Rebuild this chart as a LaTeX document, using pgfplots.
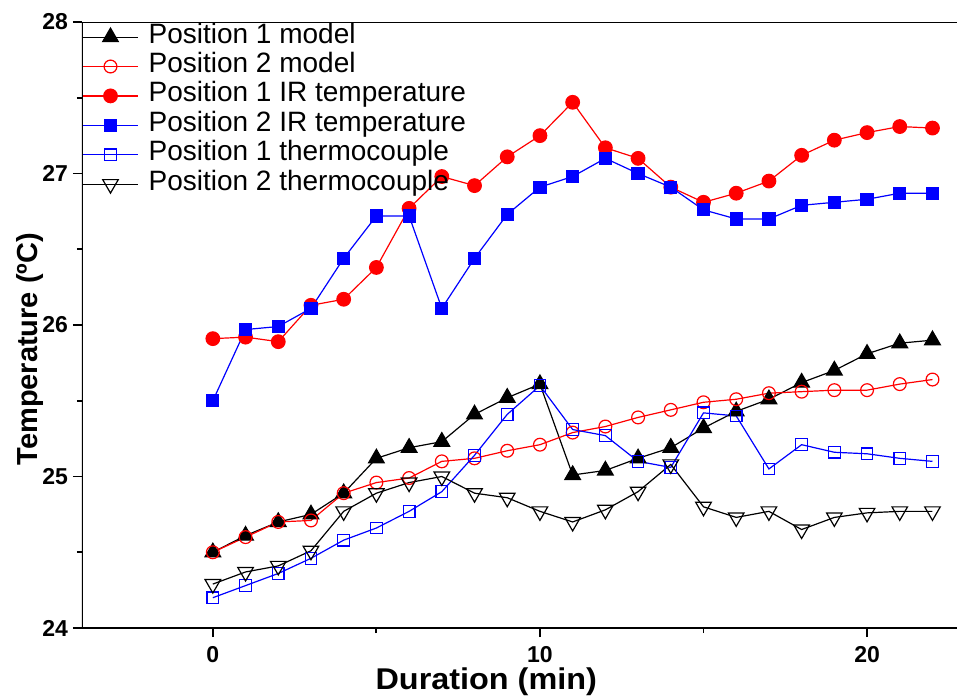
\documentclass[border=0pt]{standalone}
\usepackage{fontspec}
\setmainfont{Liberation Sans}
\usepackage{pgfplots}
\usepackage{pgfplotstable}
\pgfplotsset{compat=1.18}
\pgfplotstableread{
x p1m p2m p1ir p2ir p1tc p2tc
0 24.50 24.50 25.91 25.50 24.20 24.29
1 24.61 24.60 25.92 25.97 24.28 24.37
2 24.70 24.70 25.89 25.99 24.36 24.41
3 24.75 24.71 26.13 26.11 24.46 24.51
4 24.89 24.89 26.17 26.44 24.58 24.77
5 25.12 24.96 26.38 26.72 24.66 24.89
6 25.19 24.99 26.77 26.72 24.77 24.96
7 25.23 25.10 26.98 26.11 24.90 25.00
8 25.41 25.12 26.92 26.44 25.14 24.89
9 25.52 25.17 27.11 26.73 25.41 24.86
10 25.61 25.21 27.25 26.91 25.60 24.77
11 25.01 25.29 27.47 26.98 25.31 24.70
12 25.04 25.33 27.17 27.10 25.27 24.78
13 25.12 25.39 27.10 27.00 25.10 24.90
14 25.19 25.44 26.91 26.91 25.06 25.08
15 25.32 25.49 26.81 26.76 25.42 24.80
16 25.43 25.51 26.87 26.70 25.40 24.73
17 25.51 25.55 26.95 26.70 25.05 24.77
18 25.62 25.56 27.12 26.79 25.21 24.65
19 25.70 25.57 27.22 26.81 25.16 24.73
20 25.81 25.57 27.27 26.83 25.15 24.76
21 25.88 25.61 27.31 26.87 25.12 24.77
22 25.90 25.64 27.30 26.87 25.10 24.77
}\data
\begin{document}
\begin{tikzpicture}
\useasboundingbox (-41pt,-35pt) rectangle (437.5pt,314pt);
\begin{axis}[
  at={(0,0)}, anchor=south west,
  scale only axis, width=437.5pt, height=303pt,
  xmin=-4, xmax=22.75, ymin=24, ymax=28,
  axis line style={draw=none},
  xtick pos=lower, ytick pos=left,
  tick align=outside,
  xtick={0,10,20}, minor xtick={5,15},
  ytick={24,25,26,27,28}, minor ytick={24.5,25.5,26.5,27.5},
  major tick length=4.5pt, minor tick length=2.5pt,
  tick style={black, line width=0.9pt},
  /pgf/number format/assume math mode=true,
  ticklabel style={font=\bfseries\fontsize{11.5}{13}\selectfont},
  xticklabel style={yshift=-1pt},
  yticklabel style={xshift=1pt},
  xlabel={Duration (min)}, ylabel={Temperature (ºC)},
  xlabel style={font=\bfseries\fontsize{15}{18}\selectfont\addfontfeature{FakeStretch=1.08},
    at={(axis description cs:0.462,-0.1007)}, anchor=base},
  ylabel style={font=\bfseries\fontsize{14.5}{18}\selectfont,
    at={(axis description cs:-0.0514,0.46)}, anchor=base, rotate=0},
  legend style={at={(0,1)}, anchor=north west, yshift=0pt, draw=none, fill=none,
    font=\fontsize{14}{16}\selectfont, inner sep=0pt, row sep=0pt,
    nodes={inner sep=0pt, text height=10.3pt, text depth=4.4pt},
    /tikz/every odd column/.style={column sep=5pt}},
  legend cell align=left,
  legend image code/.code={\draw[mark repeat=2,mark phase=2] plot coordinates {(0pt,0pt) (13.75pt,0pt) (27.5pt,0pt)};},
  every axis plot/.append style={line width=0.6pt},
]
\addplot[black, mark=triangle*, mark size=4.5pt, mark options={solid, fill=black}] table[x=x,y=p1m]{\data};
\addlegendentry{Position 1 model}
\addplot[red, mark=o, mark size=3.2pt, mark options={solid, fill=white}] table[x=x,y=p2m]{\data};
\addlegendentry{Position 2 model}
\addplot[red, mark=*, mark size=3.4pt, mark options={solid, fill=red}] table[x=x,y=p1ir]{\data};
\addlegendentry{Position 1 IR temperature}
\addplot[blue, mark=square*, mark size=3pt, mark options={solid, fill=blue}] table[x=x,y=p2ir]{\data};
\addlegendentry{Position 2 IR temperature}
\addplot[blue, mark=square, mark size=2.9pt, mark options={solid, fill=white}] table[x=x,y=p1tc]{\data};
\addlegendentry{Position 1 thermocouple}
\addplot[black, mark=triangle, mark size=4.5pt, mark options={solid, fill=white, rotate=180}] table[x=x,y=p2tc]{\data};
\addlegendentry{Position 2 thermocouple}
\draw[black, line width=1.2pt] (rel axis cs:1,1) -- (rel axis cs:0,1) -- (rel axis cs:0,0) -- (rel axis cs:1,0);
\end{axis}
\end{tikzpicture}
\end{document}
